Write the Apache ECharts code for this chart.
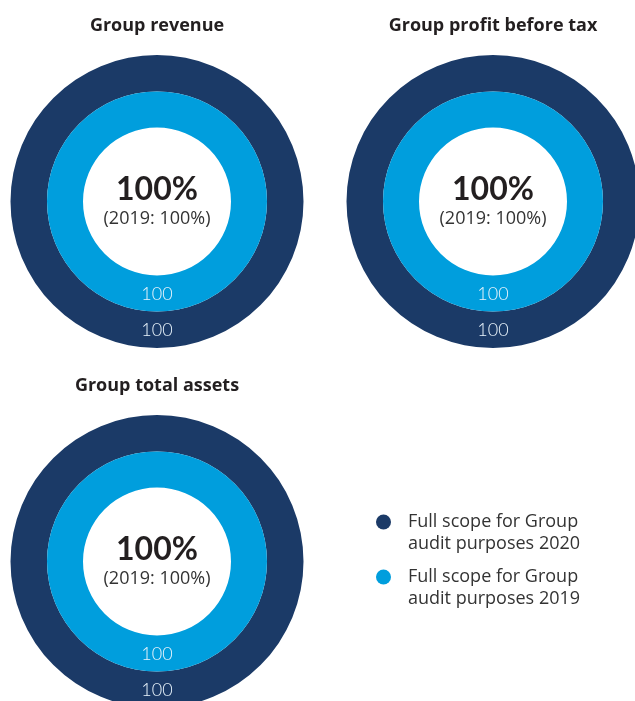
<!DOCTYPE html>
<html>
<head>
<meta charset="utf-8">
<script src="https://cdn.jsdelivr.net/npm/echarts@6/dist/echarts.min.js"></script>
<style>
  html, body { margin: 0; padding: 0; background: #ffffff; }
  #chart { width: 635px; height: 701px; }
</style>
</head>
<body>
<div id="chart"></div>
<script>
// Audit scope coverage per Group measure
const panelTitles = ['Group revenue', 'Group profit before tax', 'Group total assets'];
const scope2020 = [100, 100, 100];
const scope2019 = [100, 100, 100];
const seriesNames = ['Full scope for Group audit purposes 2020', 'Full scope for Group audit purposes 2019'];
const priorYear = '2019';

// Layout of each ring pair
const centers = [[157, 201.5], [493, 201.5], [157, 561.5]];
const titleTops = [17, 17, 377];
const colors = ['#1b3a67', '#009edd'];
const FONT = '"Open Sans", Lato, sans-serif';
const NUM_FONT = 'Lato, "Open Sans", sans-serif';

const chart = echarts.init(document.getElementById('chart'), null, { renderer: 'canvas' });

const series = [];
const graphics = [];
const titles = [];

function ringLabel(lift) {
  return {
    show: true,
    position: 'inside',
    formatter: '{v|{c}}',
    padding: [0, 0, lift * 2, 0],
    rich: {
      v: {
        fontFamily: NUM_FONT,
        fontSize: 18,
        fontWeight: 300,
        color: '#e8f3fb'
      }
    }
  };
}

panelTitles.forEach(function (t, i) {
  const c = centers[i];
  titles.push({
    text: t,
    left: c[0],
    top: titleTops[i],
    textAlign: 'center',
    padding: 0,
    textStyle: { fontFamily: FONT, fontSize: 18, fontWeight: 'bold', color: '#231f20' }
  });
  // outer ring: current year
  series.push({
    type: 'pie',
    center: c,
    radius: [110, 146.5],
    silent: true,
    animation: false,
    label: ringLabel(3),
    labelLine: { show: false },
    data: [{ name: seriesNames[0], value: scope2020[i], itemStyle: { color: colors[0] } }]
  });
  // inner ring: prior year
  series.push({
    type: 'pie',
    center: c,
    radius: [74, 110],
    silent: true,
    animation: false,
    label: ringLabel(2),
    labelLine: { show: false },
    data: [{ name: seriesNames[1], value: scope2019[i], itemStyle: { color: colors[1] } }]
  });
  // centre figures
  graphics.push({
    type: 'text',
    x: c[0],
    y: c[1] - 12,
    style: {
      text: scope2020[i] + '%',
      align: 'center',
      verticalAlign: 'middle',
      fontFamily: NUM_FONT,
      fontSize: 32,
      fontWeight: 'bold',
      fill: '#231f20'
    }
  });
  graphics.push({
    type: 'text',
    x: c[0],
    y: c[1] + 17,
    style: {
      text: '(' + priorYear + ': ' + scope2019[i] + '%)',
      align: 'center',
      verticalAlign: 'middle',
      fontFamily: FONT,
      fontSize: 18,
      fontWeight: 'normal',
      fill: '#333333'
    }
  });
});

chart.setOption({
  backgroundColor: '#ffffff',
  title: titles,
  legend: {
    orient: 'vertical',
    left: 376,
    top: 489,
    padding: 0,
    itemWidth: 15,
    itemHeight: 15,
    itemGap: -11,
    icon: 'circle',
    selectedMode: false,
    data: seriesNames,
    // empty first line keeps the marker level with the first text line
    formatter: function (name) { return ' \n' + name.replace(' audit', '\naudit'); },
    textStyle: {
      fontFamily: FONT,
      fontSize: 18,
      lineHeight: 22,
      color: '#333333',
      padding: [0, 0, 0, 12]
    }
  },
  series: series,
  graphic: graphics
});
</script>
</body>
</html>
